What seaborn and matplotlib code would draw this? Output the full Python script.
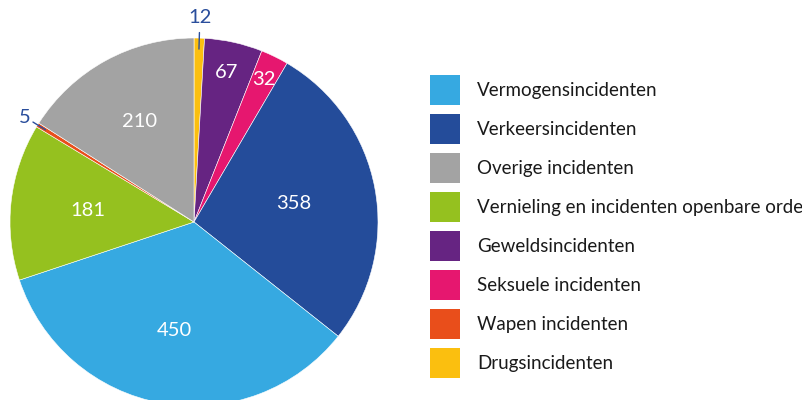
import numpy as np
import matplotlib.pyplot as plt
import seaborn as sns
from matplotlib.patches import Patch

# data, in pie order (clockwise from 12 o'clock)
categories = ["Drugsincidenten", "Geweldsincidenten", "Seksuele incidenten",
              "Verkeersincidenten", "Vermogensincidenten",
              "Vernieling en incidenten openbare orde", "Wapen incidenten",
              "Overige incidenten"]
counts = [12, 67, 32, 358, 450, 181, 5, 210]

legend_order = ["Vermogensincidenten", "Verkeersincidenten", "Overige incidenten",
                "Vernieling en incidenten openbare orde", "Geweldsincidenten",
                "Seksuele incidenten", "Wapen incidenten", "Drugsincidenten"]

colors = {
    "Vermogensincidenten": "#36a9e1",
    "Verkeersincidenten": "#244c9a",
    "Overige incidenten": "#a3a3a3",
    "Vernieling en incidenten openbare orde": "#95c11f",
    "Geweldsincidenten": "#662482",
    "Seksuele incidenten": "#e6176f",
    "Wapen incidenten": "#e94e1b",
    "Drugsincidenten": "#fbbf0f",
}

sns.set_theme(style="white")
plt.rcParams["font.family"] = ["Lato", "DejaVu Sans"]

W, H = 802, 400
fig = plt.figure(figsize=(W / 100, H / 100), dpi=100)

# pie axes: centre (194, 222) px, radius 184 px
cx, cy, r = 194, 222, 184
ax = fig.add_axes([(cx - r) / W, (H - cy - r) / H, 2 * r / W, 2 * r / H])

wedges, _ = ax.pie(counts, colors=[colors[c] for c in categories],
                   startangle=90, counterclock=False, radius=1,
                   wedgeprops=dict(linewidth=0.4, edgecolor="white"))
ax.set_xlim(-1, 1)
ax.set_ylim(-1, 1)
ax.set_aspect("equal")
ax.axis("off")

# label distance per slice (fraction of radius); None -> outside label
inside_dist = [None, 0.83, 0.86, 0.55, 0.6, 0.58, None, 0.62]
outside_cfg = {0: dict(text_r=1.11, line=(0.94, 1.03)),
               6: dict(text_r=1.08, line=(0.95, 1.03))}
label_blue = "#2a4e9c"

for i, (w, v) in enumerate(zip(wedges, counts)):
    ang = np.deg2rad((w.theta1 + w.theta2) / 2)
    if inside_dist[i] is not None:
        d = inside_dist[i]
        ax.text(d * np.cos(ang), d * np.sin(ang), str(v), color="white",
                fontsize=14.5, ha="center", va="center")
    else:
        cfg = outside_cfg[i]
        r0, r1 = cfg["line"]
        ax.plot([r0 * np.cos(ang), r1 * np.cos(ang)],
                [r0 * np.sin(ang), r1 * np.sin(ang)],
                color=label_blue, lw=1, clip_on=False)
        tr = cfg["text_r"]
        ax.text(tr * np.cos(ang), tr * np.sin(ang), str(v), color=label_blue,
                fontsize=14.5, ha="center", va="center")

handles = [Patch(facecolor=colors[c], edgecolor="none") for c in legend_order]
fs = 13.5
fs_px = fs * 100 / 72
box = 30  # swatch size in px
fig.legend(handles, legend_order, loc="upper left",
           bbox_to_anchor=(430 / W, (H - 75) / H), frameon=False,
           fontsize=fs, handlelength=box / fs_px,
           handleheight=(box / fs_px - 0.245) / 0.65,
           handletextpad=17 / fs_px, labelspacing=9 / fs_px, borderpad=0,
           borderaxespad=0, labelcolor="#1a1a1a")

fig.savefig("out.png", dpi=100)
